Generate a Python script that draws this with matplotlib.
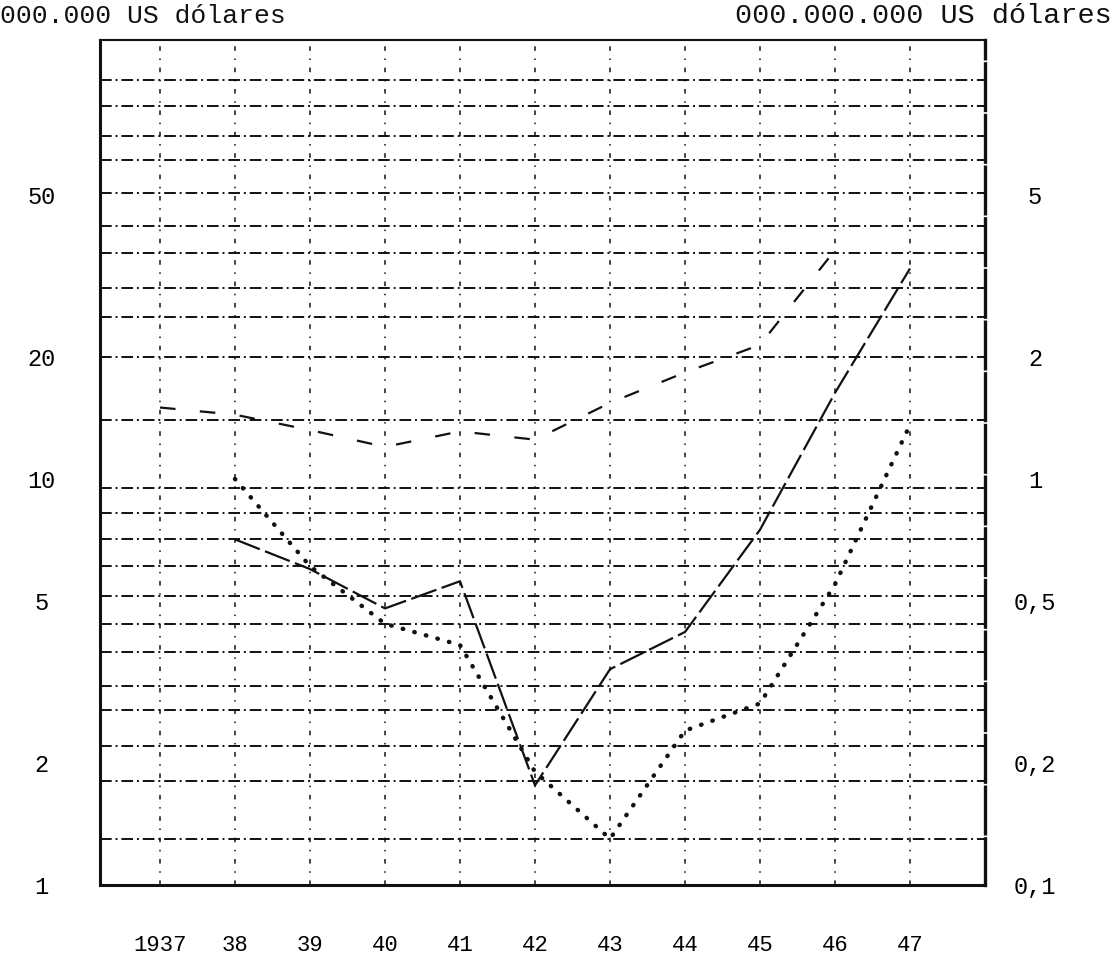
import matplotlib.pyplot as plt
import numpy as np

# years on the x axis
years = [1937, 1938, 1939, 1940, 1941, 1942, 1943, 1944, 1945, 1946, 1947]
year_labels = ["1937", "38", "39", "40", "41", "42", "43", "44", "45", "46", "47"]

# upper series (sparse dashes), 1937-1946
upper_years = years[:10]
upper_vals = [15.0, 14.4, 13.2, 12.0, 13.1, 12.5, 15.4, 18.3, 21.4, 36.6]

# long-dash series, 1938-1947
dash_years = years[1:]
dash_vals = [7.1, 6.0, 4.8, 5.6, 1.76, 3.4, 4.2, 7.5, 16.3, 33.0]

# dotted series, 1938-1947
dot_years = years[1:]
dot_vals = [10.0, 6.1, 4.4, 3.9, 1.9, 1.3, 2.4, 2.8, 5.5, 13.6]

# left axis ticks (000.000 US dolares) and right axis ticks (000.000.000 US dolares)
left_ticks = [1, 2, 5, 10, 20, 50]
left_labels = ["1", "2", "5", "10", "20", "50"]
right_ticks = [0.1, 0.2, 0.5, 1, 2, 5]
right_labels = ["0,1", "0,2", "0,5", "1", "2", "5"]

# typed horizontal rules of the paper grid
hgrid = [1.3, 1.8, 2.2, 2.7, 3.1, 3.75, 4.4, 5.15, 6.1, 7.1, 8.25, 9.5,
         14, 20, 25, 29.5, 36, 42, 50.5, 61, 70, 83, 96]

mono = "Liberation Mono"
ink = "#111111"

fig = plt.figure(figsize=(11.15, 9.75), dpi=100)
ax = fig.add_axes([100 / 1115, 90 / 975, 885 / 1115, 845 / 975])
ax.set_yscale("log")
ax.set_xlim(1936.2, 1948.0)
ax.set_ylim(1, 10 ** (845 / 406))

for v in hgrid:
    ax.axhline(v, color=ink, lw=1.4, linestyle=(0, (6, 2, 1, 2)), zorder=1)
for y in years:
    ax.axvline(y, color=ink, lw=1.1, linestyle=(0, (3, 5, 1, 5)), zorder=1)

l1, = ax.plot(upper_years, upper_vals, color=ink, lw=1.6, zorder=3)
l1.set_dashes((7, 11))
l2, = ax.plot(dash_years, dash_vals, color=ink, lw=1.6, zorder=3)
l2.set_dashes((12, 2.5))
ax.plot(dot_years, dot_vals, color=ink, lw=3.2, linestyle=(0, (0.1, 2.6)),
        dash_capstyle="round", zorder=3)

for side in ["left", "bottom"]:
    ax.spines[side].set_linewidth(2.2)
ax.spines["right"].set_linewidth(2.4)
ax.spines["right"].set_linestyle((0, (14, 1.5)))
ax.spines["top"].set_linewidth(1.5)
for s in ax.spines.values():
    s.set_color(ink)

ax.set_yticks(left_ticks)
ax.set_yticklabels(left_labels, fontsize=17, family=mono, ha="center")
ax.yaxis.set_minor_locator(plt.NullLocator())
ax.tick_params(axis="y", length=0, pad=42)
ax.set_xticks(years)
ax.set_xticklabels(year_labels, fontsize=16, family=mono)
ax.tick_params(axis="x", length=0, pad=36)

ax2 = ax.twinx()
ax2.set_yscale("log")
ax2.set_ylim(0.1, 10 ** (845 / 406) / 10)
ax2.set_yticks(right_ticks)
ax2.set_yticklabels(right_labels, fontsize=17, family=mono, ha="center")
ax2.yaxis.set_minor_locator(plt.NullLocator())
ax2.tick_params(axis="y", length=0, pad=36)
for s in ax2.spines.values():
    s.set_visible(False)

fig.text(0.0, 1 - 16 / 975, "000.000 US dólares", fontsize=19, family=mono,
         ha="left", va="center", color=ink)
fig.text(1112 / 1115, 1 - 16 / 975, "000.000.000 US dólares", fontsize=20.5,
         family=mono, ha="right", va="center", color=ink)

fig.savefig("out.png", dpi=100, facecolor="white")
